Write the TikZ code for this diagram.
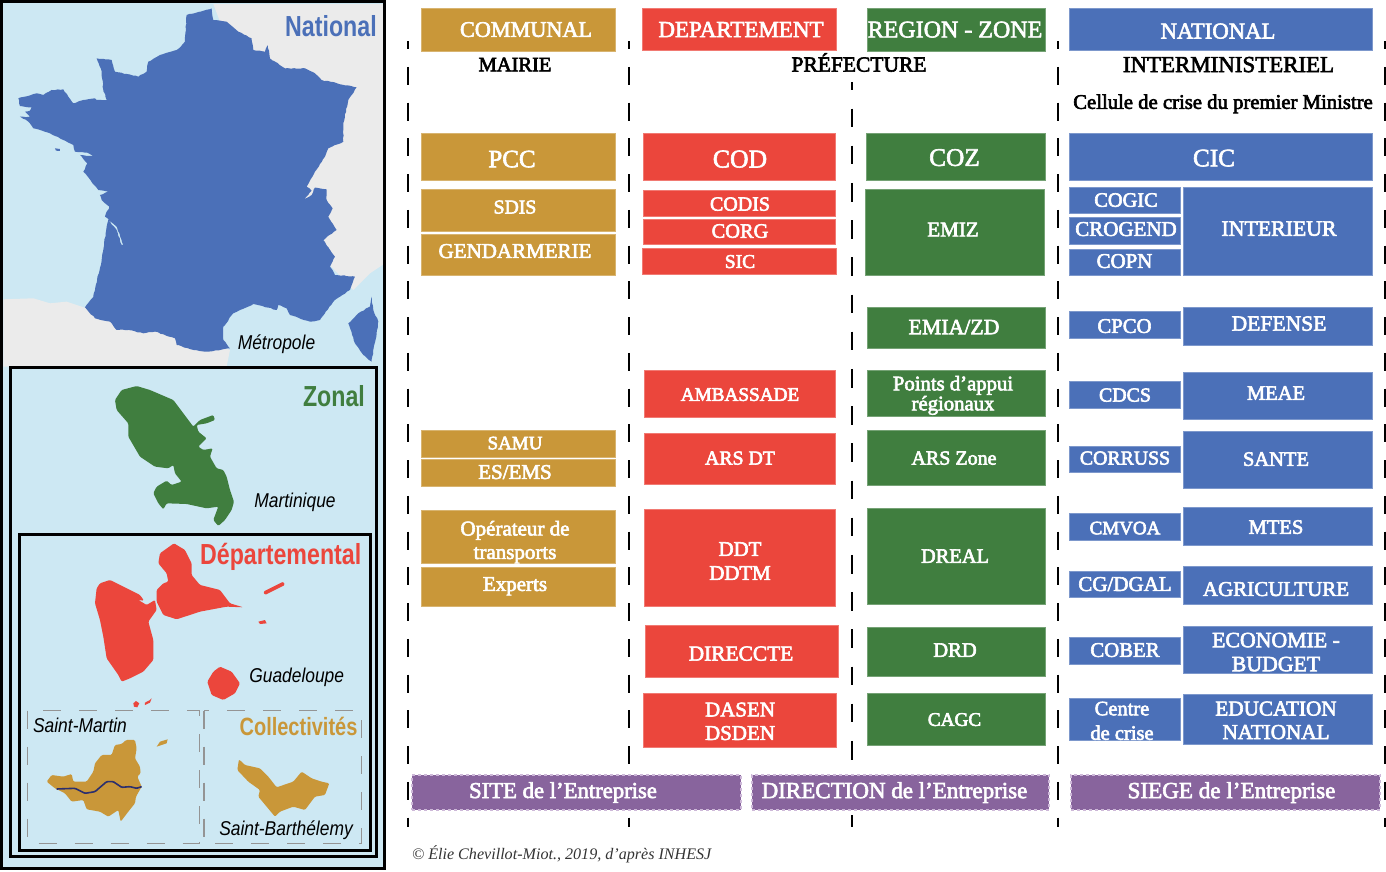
\documentclass[tikz,border=0pt]{standalone}
\usepackage{fontspec}
\usetikzlibrary{decorations.pathmorphing}
\setmainfont{Liberation Serif}
\newfontfamily\gfont{Liberation Serif}
\newfontfamily\mapb{Liberation Sans}[FakeStretch=0.8]
\newfontfamily\mapi{Liberation Sans}[FakeStretch=0.87]
\definecolor{cTan}{HTML}{C99739}
\definecolor{cRed}{HTML}{EB463C}
\definecolor{cGreen}{HTML}{407E3F}
\definecolor{cBlue}{HTML}{4B70B8}
\definecolor{cPurple}{HTML}{88649D}
\definecolor{cPurpleL}{HTML}{CDB8D8}
\definecolor{cSea}{HTML}{CDE8F3}
\definecolor{cLand}{HTML}{EBEBEB}
\definecolor{cNavy}{HTML}{2B2F6E}
\newcommand{\heavy}[1]{\special{pdf:code 2 Tr 0.6 w}#1\special{pdf:code 0 Tr}}
\tikzset{
  boxn/.style={draw=#1!72!white,line width=.4pt,fill=#1,inner sep=0pt,outer sep=0pt},
  lbl/.style={inner sep=0pt,outer sep=0pt,anchor=base},
  sepline/.style={draw=black,line width=1.3pt},
  mapframe/.style={draw=black,line width=3pt},
  dashframe/.style={draw=black!42,line width=1.5pt,dash pattern=on 18pt off 18pt},
  sitebox/.style={fill=cPurple,draw=cPurpleL,line width=2pt,dash pattern=on 3pt off 3pt,inner sep=0pt,outer sep=0pt},
  island/.style={fill=#1,rounded corners=1.2pt},
  ragged/.style={fill=#1,decorate,decoration={random steps,segment length=3pt,amplitude=.45pt}}
}
\newcommand{\bx}[6]{\node[boxn=#6,minimum width={(#4-#2)*1pt},minimum height={(#5-#3)*1pt}] (#1) at ({(#2+#4)/2},{(#3+#5)/2}) {};}
\newcommand{\lb}[6][white]{\node[lbl,text=#1,font=\gfont\fontsize{#5}{#5}\selectfont] (#2) at (#3,{#4+0.33*#5}) {\heavy{#6}};}
\newcommand{\twol}[3]{\vbox{\baselineskip=#3pt\lineskiplimit=-100pt\halign{\hfil##\hfil\cr #1\cr #2\cr}}}
\newcommand{\mapl}[5]{\node[lbl,text=#4,font=\mapb\bfseries\fontsize{#3}{#3}\selectfont] (#1) at #2 {#5};}
\newcommand{\mapt}[3]{\node[lbl,text=black,font=\mapi\itshape\fontsize{20}{20}\selectfont] (#1) at #2 {#3};}
\begin{document}
\begin{tikzpicture}[x=1pt,y=-1pt]
\useasboundingbox (0,0) rectangle (1386,871);
% ---------- map panel
\fill[cSea] (0,0) rectangle (385,869);
\begin{scope}[x=.3333pt,y=-.3333pt]
\fill[cLand] (640,12)--(1155,12)--(1155,790)--(1110,820)--(1060,870)--(900,700)--cycle;
\fill[cLand] (10,898)--(100,895)--(150,910)--(200,905)--(260,925)--(400,950)--(690,1050)--(680,1100)--(10,1100)--cycle;
\fill[ragged=cBlue] (635,25)--(640,60)--(680,65)--(715,95)--(755,115)--(760,150)--(795,155)--(803,135)--(810,175)--(855,205)--(915,205)--(945,220)--(965,240)--(1070,262)--(1045,300)--(1030,370)--(1030,425)--(985,445)--(975,470)--(945,515)--(920,560)--(935,572)--(912,600)--(935,585)--(945,563)--(980,568)--(980,600)--(998,625)--(985,650)--(1010,690)--(970,720)--(1005,770)--(990,800)--(1005,825)--(1065,830)--(1050,870)--(1005,900)--(975,940)--(960,960)--(930,965)--(870,945)--(860,925)--(835,915)--(830,930)--(760,912)--(700,940)--(670,980)--(670,1020)--(690,1045)--(625,1055)--(580,1050)--(530,1035)--(525,1015)--(465,995)--(430,1000)--(385,990)--(350,990)--(330,965)--(285,955)--(255,922)--(280,890)--(305,780)--(320,680)--(325,660)--(350,690)--(365,735)--(370,735)--(350,680)--(315,650)--(328,620)--(305,600)--(300,585)--(325,575)--(295,570)--(250,515)--(262,490)--(240,465)--(280,468)--(262,458)--(225,455)--(220,435)--(190,420)--(150,400)--(100,385)--(85,365)--(60,350)--(90,350)--(75,335)--(90,332)--(95,322)--(60,318)--(55,295)--(75,290)--(110,280)--(130,285)--(155,270)--(190,268)--(205,290)--(220,310)--(250,300)--(285,295)--(290,300)--(320,300)--(310,270)--(305,215)--(290,175)--(335,180)--(345,215)--(415,230)--(440,215)--(445,185)--(480,165)--(530,150)--(555,125)--(560,45)--cycle;
\fill[ragged=cBlue] (1115,890)--(1120,930)--(1135,965)--(1130,1000)--(1115,1085)--(1090,1065)--(1065,1030)--(1045,970)--(1075,940)--(1110,920)--cycle;
\fill[cBlue] (165,445)--(180,447)--(180,453)--(168,452)--cycle;
\end{scope}
\begin{scope}[x=.3333pt,y=-.3333pt,yshift=-360pt]
\fill[island=cGreen] (410,78)--(450,90)--(520,120)--(580,200)--(600,180)--(640,165)--(645,180)--(620,190)--(590,195)--(595,215)--(620,235)--(595,260)--(610,270)--(638,265)--(630,290)--(650,325)--(670,330)--(680,350)--(690,390)--(702,425)--(695,450)--(675,480)--(655,498)--(640,480)--(655,440)--(620,445)--(560,432)--(500,430)--(490,448)--(475,430)--(460,400)--(470,380)--(500,362)--(515,375)--(545,365)--(525,340)--(520,315)--(505,325)--(465,320)--(420,290)--(385,230)--(385,190)--(350,150)--(345,120)--(365,90)--cycle;
\fill[island=cRed] (522,550)--(555,570)--(575,610)--(575,645)--(600,675)--(660,690)--(690,730)--(730,742)--(680,740)--(600,755)--(530,778)--(490,765)--(470,725)--(470,690)--(490,670)--(505,665)--(500,640)--(475,610)--(480,580)--cycle;
\fill[island=cRed] (330,660)--(380,685)--(420,705)--(432,722)--(415,720)--(440,735)--(465,720)--(470,750)--(445,785)--(460,840)--(460,900)--(430,935)--(390,955)--(365,965)--(355,945)--(320,895)--(310,830)--(300,780)--(285,730)--(290,685)--(300,670)--cycle;
\fill[island=cRed] (850,665)--(855,675)--(795,705)--(790,695)--cycle;
\end{scope}
\begin{scope}[x=.3333pt,y=-.3333pt,yshift=-600pt]
\fill[island=cRed] (660,200)--(695,215)--(720,250)--(705,280)--(670,300)--(635,285)--(622,245)--(640,215)--cycle;
\fill[cRed] (775,65)--(795,60)--(800,70)--(780,72)--cycle;
\fill[cRed] (400,310)--(408,303)--(418,310)--(412,322)--(402,320)--cycle;
\fill[cRed] (435,308)--(450,300)--(455,295)--(450,308)--(435,315)--cycle;
\draw[dashframe] (82,332) rectangle (598,730);
\draw[dashframe] (612,332) rectangle (1085,730);
\fill[island=cTan] (378,420)--(405,420)--(410,445)--(405,475)--(420,500)--(422,520)--(412,530)--(425,560)--(408,590)--(405,610)--(385,635)--(362,665)--(355,630)--(325,650)--(300,635)--(260,628)--(250,600)--(215,605)--(195,580)--(165,565)--(140,545)--(155,525)--(190,530)--(215,522)--(220,545)--(260,545)--(280,515)--(285,490)--(305,465)--(335,465)--(345,435)--(365,432)--cycle;
\fill[cTan] (470,440)--(480,425)--(503,418)--(500,430)--cycle;
\draw[cNavy,line width=1.6pt,rounded corners=1pt] (170,567)--(225,565)--(255,580)--(285,575)--(320,545)--(340,545)--(365,562)--(390,560)--(410,565)--(425,560);
\fill[island=cTan] (717,478)--(735,495)--(780,505)--(805,530)--(830,562)--(880,545)--(905,515)--(935,535)--(965,545)--(988,550)--(975,585)--(945,590)--(915,630)--(880,620)--(840,635)--(825,650)--(775,590)--(780,570)--(745,545)--(712,510)--cycle;
\end{scope}
\draw[mapframe] (10.5,367.5) rectangle (376.5,856.5);
\draw[mapframe] (19.5,534.5) rectangle (370,850);
\draw[mapframe] (1.5,1.5) rectangle (384.5,868.5);
\mapl{mNational}{(331,36)}{29}{cBlue}{National}
\mapl{mZonal}{(334,406)}{29}{cGreen}{Zonal}
\mapl{mDep}{(280.7,564)}{29}{cRed}{Départemental}
\mapl{mColl}{(298.5,735)}{25}{cTan}{Collectivités}
\mapt{mMetro}{(276.5,349)}{Métropole}
\mapt{mMarti}{(295,507)}{Martinique}
\mapt{mGuad}{(296.7,682)}{Guadeloupe}
\mapt{mStM}{(80,732)}{Saint-Martin}
\mapt{mStB}{(286,835)}{Saint-Barthélemy}
% ---------- separators
\foreach \n/\x in {a/408,b/629,d/1058,e/1385}{
  \coordinate (s\n t) at (\x,41);
  \coordinate (s\n b) at (\x,827);
  \draw[sepline,dash pattern=on 18pt off 17.75pt,dash phase=10pt] (s\n t) -- (s\n b);
}
\coordinate (sct) at (852,82);
\coordinate (scb) at (852,827);
\draw[sepline,dash pattern=on 18.7pt off 18.5pt,dash phase=10.7pt] (sct) -- (scb);
% ---------- tan column
\bx{bCommunal}{421}{8}{615}{51}{cTan}
\bx{bPCC}{421}{133}{615}{180}{cTan}
\bx{bSDIS}{421}{189}{615}{231}{cTan}
\bx{bGend}{421}{234}{615}{275}{cTan}
\bx{bSAMU}{421}{430}{615}{457}{cTan}
\bx{bES}{421}{459}{615}{486}{cTan}
\bx{bOper}{421}{510}{615}{563}{cTan}
\bx{bExp}{421}{567}{615}{606}{cTan}
\lb{tCommunal}{526}{29.5}{22.2}{COMMUNAL}
\lb[black]{tMairie}{515}{64.5}{20.5}{MAIRIE}
\lb{tPCC}{512}{159}{25}{PCC}
\lb{tSDIS}{515}{207}{19.7}{SDIS}
\lb{tGend}{515}{251}{21}{GENDARMERIE}
\lb{tSAMU}{515}{443}{19}{SAMU}
\lb{tES}{515}{472}{21}{ES/EMS}
\lb{tOper}{515}{552}{21}{\twol{Opérateur de}{transports}{23.5}}
\lb{tExp}{515}{584}{21}{Experts}
% ---------- red column
\bx{bDep}{642}{8}{836}{50}{cRed}
\bx{bCOD}{643}{133}{835}{180}{cRed}
\bx{bCODIS}{643}{190}{835}{216}{cRed}
\bx{bCORG}{643}{219}{835.5}{244}{cRed}
\bx{bSIC}{642}{248}{836}{274}{cRed}
\bx{bAmb}{644}{370}{835}{417}{cRed}
\bx{bARS}{644}{433}{835}{484}{cRed}
\bx{bDDT}{644}{509}{835}{606}{cRed}
\bx{bDir}{645}{625}{838}{677}{cRed}
\bx{bDas}{643}{693}{836}{747}{cRed}
\lb{tDep}{741}{29.5}{23}{DEPARTEMENT}
\lb{tCOD}{740}{159}{25.7}{COD}
\lb{tCODIS}{740}{204}{20}{CODIS}
\lb{tCORG}{740}{231}{20.4}{CORG}
\lb{tSIC}{740}{261.5}{19.5}{SIC}
\lb{tAmb}{740}{394.5}{19.2}{AMBASSADE}
\lb{tARS}{740}{458}{19.8}{ARS DT}
\lb{tDDT}{740}{573}{20.8}{\twol{DDT}{DDTM}{24}}
\lb{tDir}{741}{653.5}{21.4}{DIRECCTE}
\lb{tDas}{740}{733}{21}{\twol{DASEN}{DSDEN}{23.5}}
\lb[black]{tPref}{859}{64.5}{21.5}{PRÉFECTURE}
% ---------- green column
\bx{bReg}{867}{8}{1045}{51}{cGreen}
\bx{bCOZ}{866}{133}{1045}{180}{cGreen}
\bx{bEMIZ}{865.5}{189}{1044}{275}{cGreen}
\bx{bEMIA}{867}{307}{1045}{348}{cGreen}
\bx{bPts}{867}{370}{1045}{416}{cGreen}
\bx{bARSZ}{867}{430}{1045}{485}{cGreen}
\bx{bDREAL}{867}{508}{1045}{604}{cGreen}
\bx{bDRD}{867}{627}{1045}{676}{cGreen}
\bx{bCAGC}{867}{693}{1045}{745}{cGreen}
\lb{tReg}{955}{29.5}{24}{REGION - ZONE}
\lb{tCOZ}{954.5}{157.5}{25.3}{COZ}
\lb{tEMIZ}{953}{229.5}{21}{EMIZ}
\lb{tEMIA}{954}{327}{21.8}{EMIA/ZD}
\lb{tPts}{953}{403.5}{20.7}{\twol{Points d’appui}{régionaux}{20}}
\lb{tARSZ}{954}{458}{20}{ARS Zone}
\lb{tDREAL}{955}{556}{20.4}{DREAL}
\lb{tDRD}{955}{650}{20.6}{DRD}
\lb{tCAGC}{954.5}{719.5}{19.2}{CAGC}
% ---------- blue columns
\bx{bNat}{1069}{8}{1372}{50}{cBlue}
\bx{bCIC}{1069}{133}{1372}{180}{cBlue}
\bx{bCOGIC}{1069}{187}{1180}{213}{cBlue}
\bx{bCROG}{1069}{217}{1180}{244}{cBlue}
\bx{bCOPN}{1069.5}{249}{1180}{275}{cBlue}
\bx{bINT}{1183}{187}{1372}{275}{cBlue}
\bx{bCPCO}{1069.5}{311}{1180}{338}{cBlue}
\bx{bDEF}{1183}{307}{1372}{345}{cBlue}
\bx{bCDCS}{1069}{381}{1180}{408}{cBlue}
\bx{bMEAE}{1183}{372}{1372}{419}{cBlue}
\bx{bCORR}{1069.5}{446}{1180}{472}{cBlue}
\bx{bSANTE}{1183}{431}{1372}{488}{cBlue}
\bx{bCMVOA}{1069.5}{513}{1180}{540}{cBlue}
\bx{bMTES}{1183}{507}{1372}{545}{cBlue}
\bx{bCG}{1069.5}{571}{1180}{597}{cBlue}
\bx{bAGRI}{1183}{566}{1372}{604}{cBlue}
\bx{bCOBER}{1069.5}{637}{1180}{664}{cBlue}
\bx{bECO}{1183}{626}{1372}{673}{cBlue}
\bx{bCentre}{1069.5}{698}{1180}{740}{cBlue}
\bx{bEDU}{1183}{694}{1372}{744}{cBlue}
\lb{tNat}{1218}{31}{22.7}{NATIONAL}
\lb[black]{tInter}{1228.5}{64.5}{22.9}{INTERMINISTERIEL}
\lb[black]{tCell}{1223}{102}{20.7}{Cellule de crise du premier Ministre}
\lb{tCIC}{1214}{158}{25.2}{CIC}
\lb{tCOGIC}{1126}{200}{20.4}{COGIC}
\lb{tCROG}{1126}{229}{21}{CROGEND}
\lb{tCOPN}{1124.5}{261}{20.9}{COPN}
\lb{tINT}{1279}{228.5}{21.8}{INTERIEUR}
\lb{tCPCO}{1124.5}{326}{20.7}{CPCO}
\lb{tDEF}{1279}{323.5}{21.6}{DEFENSE}
\lb{tCDCS}{1125}{395}{19.9}{CDCS}
\lb{tMEAE}{1276}{393}{20.5}{MEAE}
\lb{tCORR}{1125}{458}{19.8}{CORRUSS}
\lb{tSANTE}{1276}{459}{20.5}{SANTE}
\lb{tCMVOA}{1125}{528}{19}{CMVOA}
\lb{tMTES}{1276}{527}{20.5}{MTES}
\lb{tCG}{1125}{584}{21}{CG/DGAL}
\lb{tAGRI}{1276}{589}{21}{AGRICULTURE}
\lb{tCOBER}{1125}{650}{20.8}{COBER}
\lb{tECO}{1276}{664}{21.8}{\twol{ECONOMIE -}{BUDGET}{24}}
\lb{tCentre}{1122}{733}{20.5}{\twol{Centre}{de crise}{24.5}}
\lb{tEDU}{1276}{732}{21.2}{\twol{EDUCATION}{NATIONAL}{23.5}}
% ---------- purple sites
\node[sitebox,minimum width=329pt,minimum height=35pt] (bSite) at (576.5,792) {};
\node[sitebox,minimum width=297.5pt,minimum height=35pt] (bDirE) at (900.5,792) {};
\node[sitebox,minimum width=309.5pt,minimum height=35pt] (bSiege) at (1225.5,792) {};
\lb{tSite}{563}{790.5}{22.7}{SITE de l’Entreprise}
\lb{tDirE}{894.5}{790.5}{23}{DIRECTION de l’Entreprise}
\lb{tSiege}{1231.5}{790.5}{23.1}{SIEGE de l’Entreprise}
\node[inner sep=0pt,outer sep=0pt,anchor=base west,text=black!80,font=\itshape\fontsize{16.1}{16.1}\selectfont] (tCredit) at (412,859) {© Élie Chevillot-Miot., 2019, d’après INHESJ};
\end{tikzpicture}
\end{document}
